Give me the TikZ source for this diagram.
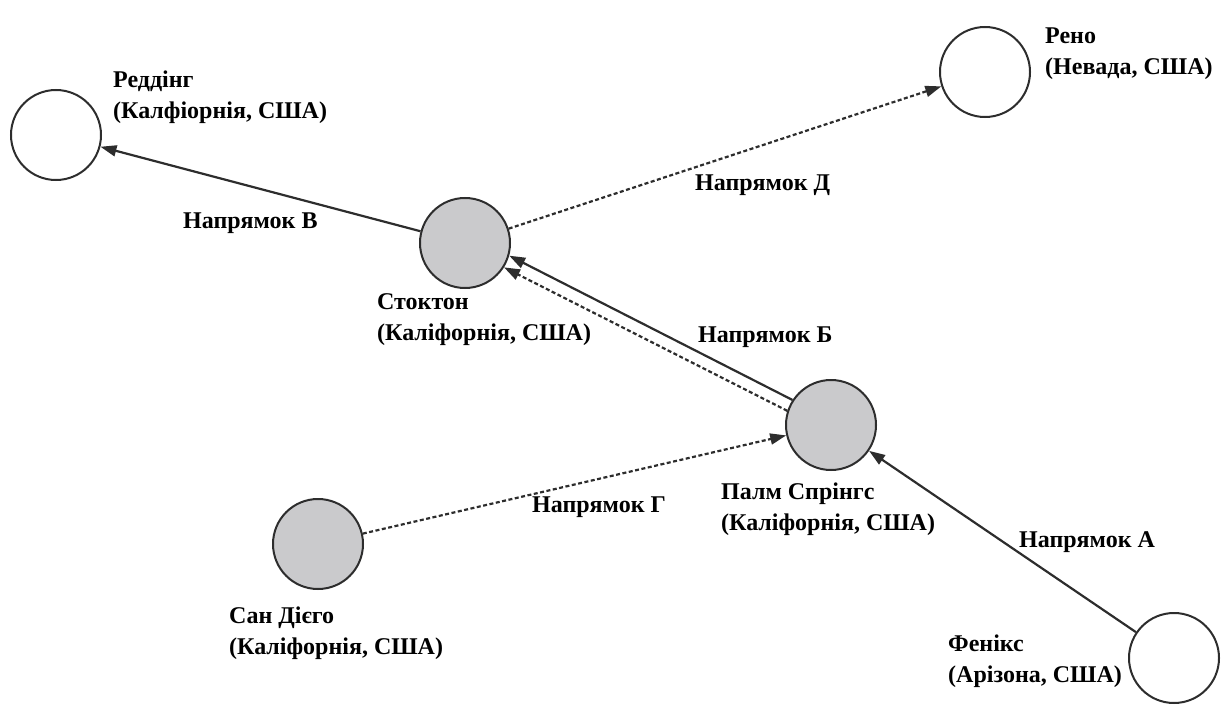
\documentclass[tikz,border=0pt]{standalone}
\usepackage{fontspec}
\setmainfont{LiberationSerif}[Extension=.ttf, UprightFont=*-Regular, BoldFont=*-Bold]
\usetikzlibrary{arrows.meta}
\definecolor{ink}{RGB}{45,45,45}
\definecolor{cityfill}{RGB}{202,202,204}

\begin{document}
\begin{tikzpicture}[x=1pt,y=-1pt,
  city/.style={circle, draw=ink, line width=2pt, minimum size=90pt, inner sep=0pt, fill=white},
  hub/.style={city, fill=cityfill},
  place/.style={font=\bfseries\fontsize{24}{31}\selectfont, align=left, inner sep=0pt, anchor=north west},
  route/.style={font=\bfseries\fontsize{24}{31}\selectfont, inner sep=0pt, anchor=base west},
  flow/.style={draw=ink, line width=2.2pt, -{Triangle[length=16pt,width=11pt]}},
  alt/.style={flow, dash pattern=on 4pt off 2.5pt},
]
\useasboundingbox (0,0) rectangle (1231,706);

% cities
\node[city] (redding)  at (56,135)   {};
\node[city] (reno)     at (985,72)   {};
\node[hub]  (stockton) at (465,243)  {};
\node[hub]  (palm)     at (831,425)  {};
\node[hub]  (sandiego) at (318,544)  {};
\node[city] (phoenix)  at (1174,658) {};

% city names
\node[place] (tredding)  at (113,71)  {Реддінг\\(Калфіорнія, США)};
\node[place] (treno)     at (1045,28) {Рено\\(Невада, США)};
\node[place] (tstockton) at (377,293) {Стоктон\\(Каліфорнія, США)};
\node[place] (tpalm)     at (721,483) {Палм Спрінгс\\(Каліфорнія, США)};
\node[place] (tsandiego) at (229,607) {Сан Дієго\\(Каліфорнія, США)};
\node[place] (tphoenix)  at (948,635) {Фенікс\\(Арізона, США)};

% routes
\draw[flow] (phoenix) -- (palm);
\draw[flow] (palm.147) -- (stockton.-16);
\draw[alt]  (palm.162) -- (stockton.-32);
\draw[alt]  (sandiego) -- (palm);
\draw[flow] (stockton) -- (redding);
\draw[alt]  (stockton) -- (reno);

% route names
\node[route] (ra) at (1019,547) {Напрямок А};
\node[route] (rb) at (698,342)  {Напрямок Б};
\node[route] (rv) at (183,228)  {Напрямок В};
\node[route] (rg) at (532,512)  {Напрямок Г};
\node[route] (rd) at (695,190)  {Напрямок Д};
\end{tikzpicture}
\end{document}
